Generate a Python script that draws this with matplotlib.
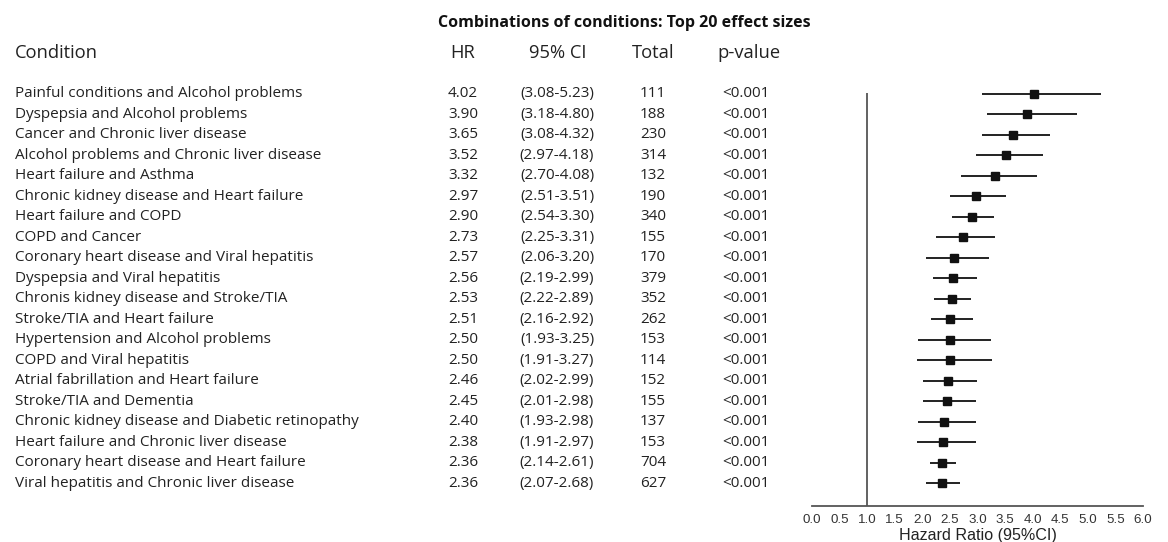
import matplotlib
matplotlib.use("Agg")
import matplotlib.pyplot as plt
import matplotlib.transforms as mtransforms

conditions = [
    "Painful conditions and Alcohol problems",
    "Dyspepsia and Alcohol problems",
    "Cancer and Chronic liver disease",
    "Alcohol problems and Chronic liver disease",
    "Heart failure and Asthma",
    "Chronic kidney disease and Heart failure",
    "Heart failure and COPD",
    "COPD and Cancer",
    "Coronary heart disease and Viral hepatitis",
    "Dyspepsia and Viral hepatitis",
    "Chronis kidney disease and Stroke/TIA",
    "Stroke/TIA and Heart failure",
    "Hypertension and Alcohol problems",
    "COPD and Viral hepatitis",
    "Atrial fabrillation and Heart failure",
    "Stroke/TIA and Dementia",
    "Chronic kidney disease and Diabetic retinopathy",
    "Heart failure and Chronic liver disease",
    "Coronary heart disease and Heart failure",
    "Viral hepatitis and Chronic liver disease",
]
hr = [4.02, 3.90, 3.65, 3.52, 3.32, 2.97, 2.90, 2.73, 2.57, 2.56,
      2.53, 2.51, 2.50, 2.50, 2.46, 2.45, 2.40, 2.38, 2.36, 2.36]
ci_low = [3.08, 3.18, 3.08, 2.97, 2.70, 2.51, 2.54, 2.25, 2.06, 2.19,
          2.22, 2.16, 1.93, 1.91, 2.02, 2.01, 1.93, 1.91, 2.14, 2.07]
ci_high = [5.23, 4.80, 4.32, 4.18, 4.08, 3.51, 3.30, 3.31, 3.20, 2.99,
           2.89, 2.92, 3.25, 3.27, 2.99, 2.98, 2.98, 2.97, 2.61, 2.68]
totals = [111, 188, 230, 314, 132, 190, 340, 155, 170, 379,
          352, 262, 153, 114, 152, 155, 137, 153, 704, 627]
p_values = ["<0.001"] * len(conditions)
x_ticks = [0.0, 0.5, 1.0, 1.5, 2.0, 2.5, 3.0, 3.5, 4.0, 4.5, 5.0, 5.5, 6.0]

W, H = 1168, 542
TEXT_FONT = ["Open Sans", "DejaVu Sans"]
AXIS_FONT = ["Liberation Sans", "DejaVu Sans"]
TEXT_COLOR = "#222222"

fig = plt.figure(figsize=(W / 100, H / 100), dpi=100)

# forest panel: x 0..6 spans px 812..1143, bottom axis line at px 506
left, right = 812, 1143
top, bottom = 73.5, 506
ax = fig.add_axes([left / W, 1 - bottom / H, (right - left) / W, (bottom - top) / H])
rows = list(range(len(conditions)))
ax.set_xlim(0, 6)
ax.set_ylim(20.12, -1)

ax.hlines(rows, ci_low, ci_high, color="#222222", lw=1.4)
ax.plot(hr, rows, ls="none", marker="s", ms=6.4, color="#111111")
ax.vlines(1.0, -0.05, 20.12, color="#555555", lw=1.3)

for side in ("top", "left", "right"):
    ax.spines[side].set_visible(False)
ax.spines["bottom"].set_color("#555555")
ax.spines["bottom"].set_linewidth(1.3)
ax.set_yticks([])
ax.set_xticks(x_ticks)
ax.set_xticklabels([f"{t:.1f}" for t in x_ticks], fontsize=9.6,
                   family=AXIS_FONT, color="#333333")
ax.tick_params(axis="x", length=0, pad=6)
ax.set_xlabel("Hazard Ratio (95%CI)", fontsize=11.6, family=AXIS_FONT,
              color="#222222", labelpad=1)

# table columns share the forest panel's row positions
trans = mtransforms.blended_transform_factory(fig.transFigure, ax.transData)


def fx(px):
    return px / W


for i, name in enumerate(conditions):
    kw = dict(transform=trans, va="center", fontsize=11.0, family=TEXT_FONT,
              color=TEXT_COLOR)
    fig.text(fx(15), i, name, ha="left", **kw)
    fig.text(fx(463), i, f"{hr[i]:.2f}", ha="center", **kw)
    fig.text(fx(557), i, f"({ci_low[i]:.2f}-{ci_high[i]:.2f})", ha="center", **kw)
    fig.text(fx(653), i, f"{totals[i]}", ha="center", **kw)
    fig.text(fx(746), i, p_values[i], ha="center", **kw)

head = dict(va="center", fontsize=13.2, family=TEXT_FONT, color=TEXT_COLOR)
y_head = 1 - 53 / H
fig.text(fx(15), y_head, "Condition", ha="left", **head)
fig.text(fx(463), y_head, "HR", ha="center", **head)
fig.text(fx(558), y_head, "95% CI", ha="center", **head)
fig.text(fx(653), y_head, "Total", ha="center", **head)
fig.text(fx(749), y_head, "p-value", ha="center", **head)

fig.text(fx(624), 1 - 23 / H, "Combinations of conditions: Top 20 effect sizes",
         ha="center", va="center", fontsize=11.5, fontweight="bold",
         family=TEXT_FONT, color="#111111")

fig.savefig("out.png", dpi=100)
